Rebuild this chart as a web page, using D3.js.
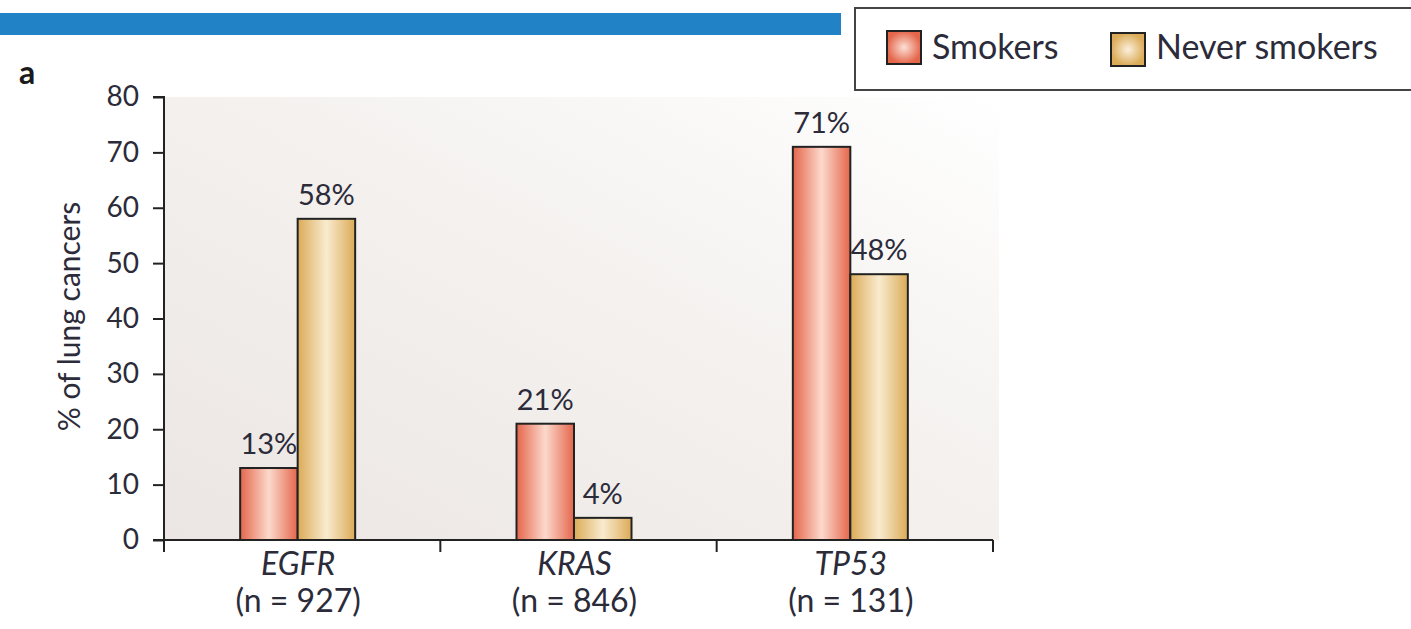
<!DOCTYPE html>
<html>
<head>
<meta charset="utf-8">
<script src="https://cdn.jsdelivr.net/npm/d3@7"></script>
<style>
  body { margin: 0; background: #fff; }
  svg { display: block; font-family: Lato, "Open Sans", sans-serif; }
</style>
</head>
<body>
<div id="chart"></div>
<script>
const genes = ['EGFR', 'KRAS', 'TP53'];
const sampleSizes = ['(n = 927)', '(n = 846)', '(n = 131)'];
const smokers = [13, 21, 71];
const neverSmokers = [58, 4, 48];
const groups = ['Smokers', 'Never smokers'];
const yTicks = [0, 10, 20, 30, 40, 50, 60, 70, 80];

const width = 1411, height = 629;
const margin = { top: 97, left: 164, bottom: 89, right: 418 };
const innerW = width - margin.left - margin.right,
  innerH = height - margin.top - margin.bottom;

const textColor = '#2b2b3a';

const svg = d3.select('#chart').
append('svg').
attr('width', width).
attr('height', height);

const defs = svg.append('defs');

// bar gradients: dark edges, pale centre
const grads = [
{ id: 'g-smoke', edge: '#e4664b', mid: '#fcd9cc' },
{ id: 'g-never', edge: '#dbab57', mid: '#f9ebcf' }];

grads.forEach(g => {
  const lg = defs.append('linearGradient').attr('id', g.id).
  attr('x1', '0%').attr('x2', '100%').attr('y1', '0%').attr('y2', '0%');
  lg.append('stop').attr('offset', '0%').attr('stop-color', g.edge);
  lg.append('stop').attr('offset', '50%').attr('stop-color', g.mid);
  lg.append('stop').attr('offset', '100%').attr('stop-color', g.edge);
});

const radial = [
{ id: 'r-smoke', edge: '#e4664b', mid: '#fde0d6' },
{ id: 'r-never', edge: '#dbab57', mid: '#fbf0dc' }];

radial.forEach(g => {
  const rg = defs.append('radialGradient').attr('id', g.id);
  rg.append('stop').attr('offset', '0%').attr('stop-color', g.mid);
  rg.append('stop').attr('offset', '100%').attr('stop-color', g.edge);
});

const bg = defs.append('linearGradient').attr('id', 'bg').
attr('x1', '0%').attr('y1', '100%').attr('x2', '100%').attr('y2', '0%');
bg.append('stop').attr('offset', '0%').attr('stop-color', '#ebe6e3');
bg.append('stop').attr('offset', '55%').attr('stop-color', '#f4f1ef');
bg.append('stop').attr('offset', '100%').attr('stop-color', '#ffffff');

// blue header strip
svg.append('rect').
attr('x', 0).attr('y', 13).
attr('width', 841).attr('height', 22).
attr('fill', '#2183c6');

// panel letter
svg.append('text').
attr('x', 19).attr('y', 84).
attr('font-size', 32).attr('font-weight', 'bold').
attr('fill', '#1a1a1a').
text('a');

const g = svg.append('g').
attr('transform', `translate(${margin.left},${margin.top})`);

g.append('rect').
attr('x', 0).attr('y', 0).
attr('width', innerW + 6).attr('height', innerH).
attr('fill', 'url(#bg)');

const x = d3.scaleBand().
domain(genes).
range([0, innerW]).
paddingInner(0).
paddingOuter(0);

const xSub = d3.scaleBand().
domain(groups).
range([0, 115]);

const y = d3.scaleLinear().
domain([0, 80]).
range([innerH, 0]);

// y axis
const yAxis = g.append('g').
call(d3.axisLeft(y).tickValues(yTicks).tickSize(11).tickPadding(14));
yAxis.selectAll('path, line').attr('stroke', '#222').attr('stroke-width', 2);
yAxis.select('.domain').attr('d', `M-11,0H0V${innerH}H-11`);
yAxis.selectAll('text').
attr('font-size', 28).attr('fill', textColor).
style('font-family', 'Lato, sans-serif');

// x axis with ticks at band edges
const xAxis = g.append('g').
attr('transform', `translate(0,${innerH})`);
xAxis.append('line').
attr('x1', 0).attr('x2', innerW).
attr('stroke', '#222').attr('stroke-width', 2);
xAxis.selectAll('.edge').
data(genes.concat(['end'])).
enter().
append('line').
attr('x1', (d, i) => i * x.bandwidth()).
attr('x2', (d, i) => i * x.bandwidth()).
attr('y1', 0).attr('y2', 12).
attr('stroke', '#222').attr('stroke-width', 2);

xAxis.selectAll('.gene').
data(genes).
enter().
append('text').
attr('x', d => x(d) + x.bandwidth() / 2 - 4).
attr('y', 35).
attr('text-anchor', 'middle').
attr('font-size', 32).attr('font-style', 'italic').
attr('fill', textColor).
text(d => d);

xAxis.selectAll('.n').
data(sampleSizes).
enter().
append('text').
attr('x', (d, i) => x(genes[i]) + x.bandwidth() / 2 - 4).
attr('y', 72).
attr('text-anchor', 'middle').
attr('font-size', 32).
attr('fill', textColor).
text(d => d);

// y title
g.append('text').
attr('transform', `translate(-84,${innerH / 2 - 2}) rotate(-90)`).
attr('text-anchor', 'middle').
attr('font-size', 30).
attr('fill', textColor).
text('% of lung cancers');

// bars
const rows = genes.map((gene, i) => ({
  gene,
  values: [
  { key: 'Smokers', value: smokers[i], fill: 'url(#g-smoke)' },
  { key: 'Never smokers', value: neverSmokers[i], fill: 'url(#g-never)' }] }));



const geneG = g.selectAll('.geneG').
data(rows).
enter().
append('g').
attr('transform', d => `translate(${x(d.gene) + x.bandwidth() / 2 - 62},0)`);

geneG.selectAll('rect').
data(d => d.values).
enter().
append('rect').
attr('x', d => xSub(d.key)).
attr('y', d => y(d.value)).
attr('width', xSub.bandwidth()).
attr('height', d => innerH - y(d.value)).
attr('fill', d => d.fill).
attr('stroke', '#222').
attr('stroke-width', 2);

geneG.selectAll('.lbl').
data(d => d.values).
enter().
append('text').
attr('x', d => xSub(d.key) + xSub.bandwidth() / 2).
attr('y', d => y(d.value) - 14).
attr('text-anchor', 'middle').
attr('font-size', 29).
attr('fill', textColor).
text(d => d.value + '%');

// legend
const legend = svg.append('g');
legend.append('rect').
attr('x', 855).attr('y', 8).
attr('width', 600).attr('height', 82).
attr('fill', '#fff').
attr('stroke', '#444').attr('stroke-width', 2);

const legendItems = [
{ label: 'Smokers', fill: 'url(#r-smoke)', x: 887, y: 31 },
{ label: 'Never smokers', fill: 'url(#r-never)', x: 1111, y: 33 }];


legendItems.forEach(d => {
  legend.append('rect').
  attr('x', d.x).attr('y', d.y).
  attr('width', 34).attr('height', 33).
  attr('fill', d.fill).
  attr('stroke', '#222').attr('stroke-width', 2);
  legend.append('text').
  attr('x', d.x + 45).attr('y', 59).
  attr('font-size', 34).
  attr('fill', textColor).
  text(d.label);
});
</script>
</body>
</html>
